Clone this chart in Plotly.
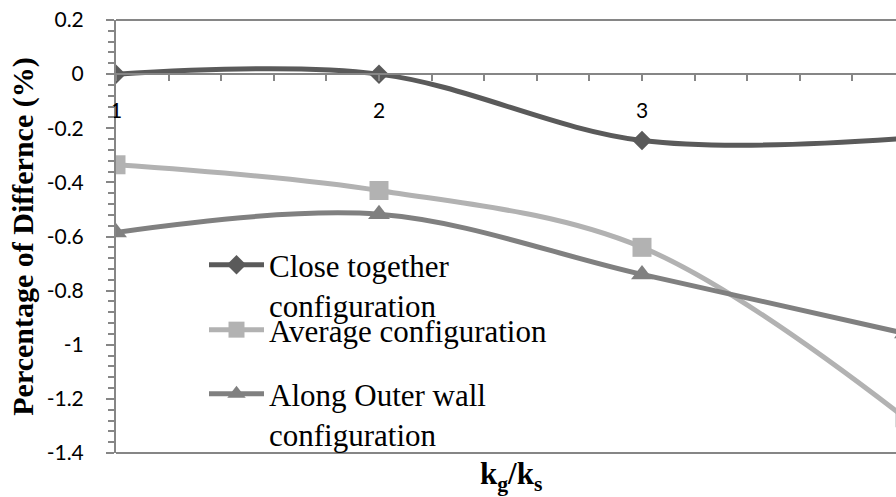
import plotly.graph_objects as go

ratio = [1, 2, 3, 4]
close_together = [0.0, 0.0, -0.245, -0.237]
average_cfg = [-0.335, -0.43, -0.64, -1.27]
along_outer = [-0.585, -0.518, -0.74, -0.958]

names = ["Close together<br>configuration", "Average configuration",
         "Along Outer wall<br>configuration"]
colors = ["#5a5a5a", "#b2b2b2", "#808080"]
symbols = ["diamond", "square", "triangle-up"]
sizes = [15, 19, 19]
series = [close_together, average_cfg, along_outer]
legends = ["legend", "legend2", "legend3"]

fig = go.Figure()
for name, ys, c, s, sz, lg in zip(names, series, colors, symbols, sizes, legends):
    fig.add_trace(go.Scatter(
        x=ratio, y=ys, name=name, mode="lines+markers",
        line=dict(color=c, width=5, shape="spline", smoothing=1.0),
        marker=dict(symbol=s, size=sz, color=c),
        legend=lg,
    ))

axis_gray = "#868686"
SERIF = "Liberation Serif"
tick_font = dict(family="Lato", size=21, color="#000000")
leg_font = dict(family=SERIF, size=31, color="#000000")

W, H = 896, 497
L, R, T, B = 116, 0, 20, 44
pw = W - L - R
ph = H - T - B
x_per_unit = 263.0
xmax = 1 + pw / x_per_unit


def px2x(px):
    return (px - L) / pw


def py2y(py):
    return 1 - (py - T) / ph


leg_common = dict(font=leg_font, bgcolor="rgba(0,0,0,0)", borderwidth=0,
                  xanchor="left", yanchor="top", itemwidth=55, valign="top",
                  tracegroupgap=0)

fig.update_layout(
    width=W, height=H,
    font=dict(family=SERIF, size=30, color="#000000"),
    margin=dict(l=L, r=R, t=T, b=B, pad=0),
    paper_bgcolor="white", plot_bgcolor="white",
    showlegend=True,
    legend=dict(x=px2x(204), y=py2y(238), **leg_common),
    legend2=dict(x=px2x(204), y=py2y(303), **leg_common),
    legend3=dict(x=px2x(204), y=py2y(367), **leg_common),
    xaxis=dict(
        range=[1, xmax], anchor="free", position=(0 - (-1.4)) / 1.6,
        showgrid=False, zeroline=False,
        showline=True, linecolor=axis_gray, linewidth=2,
        tickmode="array", tickvals=[1, 2, 3], ticktext=["1", "2", "3"],
        ticks="outside", ticklen=6, tickwidth=2, tickcolor=axis_gray,
        tickfont=tick_font, ticklabelstandoff=12,
        minor=dict(dtick=0.2, ticks="outside", ticklen=6, tickwidth=2, tickcolor=axis_gray),
    ),
    yaxis=dict(
        range=[-1.4, 0.2], showgrid=False, zeroline=False,
        showline=True, linecolor=axis_gray, linewidth=2,
        tickmode="array",
        tickvals=[0.2, 0, -0.2, -0.4, -0.6, -0.8, -1, -1.2, -1.4],
        ticktext=["0.2", "0", "-0.2", "-0.4", "-0.6", "-0.8", "-1", "-1.2", "-1.4"],
        ticks="outside", ticklen=8, tickwidth=2, tickcolor=axis_gray,
        tickfont=tick_font, ticklabelstandoff=18,
        minor=dict(dtick=0.04, ticks="outside", ticklen=6, tickwidth=2, tickcolor=axis_gray),
        title=dict(text="<b>Percentage of Differnce (%)</b>",
                   font=dict(family=SERIF, size=30, color="#000000"),
                   standoff=4),
    ),
    yaxis2=dict(
        range=[-1.4, 0.2], overlaying="y", anchor="free", position=0,
        showgrid=False, zeroline=False, showline=False,
        tickmode="array", tickvals=[0.2, 0, -0.2, -0.4, -0.6, -0.8, -1, -1.2, -1.4],
        ticks="inside", ticklen=8, tickwidth=2, tickcolor=axis_gray,
        showticklabels=False,
    ),
    shapes=[
        dict(type="line", xref="paper", yref="paper", x0=0, x1=1, y0=1, y1=1,
             line=dict(color=axis_gray, width=2)),
        dict(type="line", xref="paper", yref="paper", x0=0, x1=1, y0=0, y1=0,
             line=dict(color=axis_gray, width=2)),
    ],
    annotations=[
        dict(text="<b>k<sub>g</sub>/k<sub>s</sub></b>", xref="paper", yref="paper",
             x=px2x(511), y=py2y(476), xanchor="center", yanchor="middle",
             showarrow=False,
             font=dict(family=SERIF, size=31, color="#000000")),
    ],
)

fig.write_html("out.html")
